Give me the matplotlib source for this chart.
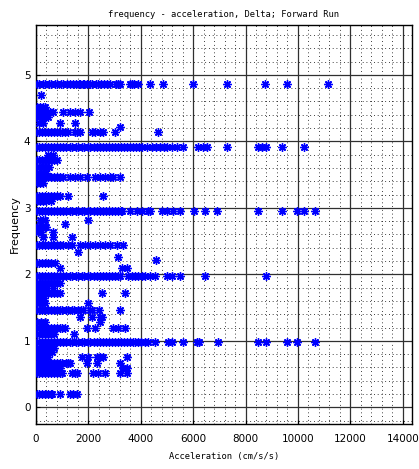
import matplotlib
matplotlib.use("Agg")
import matplotlib.pyplot as plt
from matplotlib.ticker import MultipleLocator

# ---- data: frequency rows (Hz) and accelerations (cm/s/s) ----
freq_486 = 4.86
acc_486 = [20, 130, 250, 360, 480, 590, 710, 820, 940, 1050, 1170, 1280, 1400, 1510, 1630,
           1690, 1780, 1850, 1930, 2060, 2150, 2280, 2350, 2470, 2580, 2700, 2810, 3050, 3120,
           3190, 3580, 3650, 3760, 3880, 4340, 4830, 5980, 7310, 8730, 9570, 11130]

freqs_4x = [4.70, 4.52, 4.44, 4.36, 4.28, 4.22, 4.14]
acc_4x = [
    [180],
    [30, 140, 250, 330],
    [20, 120, 230, 330, 440, 520, 640, 1020, 1290, 1480, 1670, 2010],
    [20, 130, 240, 350, 450],
    [100, 250, 900, 1480],
    [3190],
    [20, 120, 230, 340, 450, 560, 680, 790, 900, 1010, 1100, 1210, 1480, 1550, 1670, 2130,
     2240, 2430, 2540, 3000, 4640],
]

freq_392 = 3.92
acc_392 = [20, 130, 240, 360, 470, 590, 700, 820, 930, 1050, 1160, 1280, 1390, 1510, 1620,
           1740, 1850, 1970, 2080, 2200, 2310, 2430, 2540, 2660, 2770, 2890, 3000, 3120, 3230,
           3350, 3460, 3580, 3690, 3810, 3920, 4040, 4220, 4410, 4600, 4720, 4870, 4990, 5180,
           5370, 5600, 6170, 6360, 6510, 7310, 8460, 8610, 8800, 9410, 10250]

freqs_3x = [3.80, 3.72, 3.62, 3.53, 3.46, 3.38, 3.18, 3.10]
acc_3x = [
    [450, 640],
    [20, 120, 230, 340, 450, 560, 680, 790],
    [20, 130, 250, 380, 500],
    [20, 120, 250, 380],
    [20, 120, 230, 340, 450, 560, 680, 790, 900, 1020, 1290, 1480, 1670, 1930, 2240, 2430,
     2620, 2810, 2930, 3190],
    [30, 150, 280],
    [20, 120, 230, 340, 450, 560, 680, 790, 900, 1210, 2540],
    [20, 140, 260, 400, 560],
]

freq_295 = 2.95
acc_295 = [20, 130, 240, 360, 470, 590, 700, 820, 930, 1050, 1160, 1280, 1390, 1510, 1620,
           1740, 1850, 1970, 2080, 2200, 2310, 2430, 2540, 2660, 2770, 2890, 3000, 3120, 3230,
           3300, 3575, 3840, 4030, 4260, 4340, 4800, 4990, 5220, 5480, 6020, 6440, 6900, 8460,
           9410, 9980, 10250, 10670]

freqs_2x = [2.82, 2.75, 2.71, 2.64, 2.56, 2.44, 2.33, 2.26, 2.21, 2.17, 2.09]
acc_2x = [
    [140, 250, 330, 1970],
    [1100],
    [20, 100, 180, 260, 330, 400],
    [60, 200, 640],
    [250, 640, 1360],
    [20, 120, 230, 340, 450, 560, 680, 790, 900, 1020, 1210, 1360, 1670, 1860, 2050, 2240,
     2430, 2620, 2810, 3080, 3310],
    [1590],
    [3120],
    [4600],
    [20, 120, 230, 340, 450, 560, 720],
    [900, 3270, 3460],
]

freq_197 = 1.97
acc_197 = [20, 130, 240, 360, 470, 590, 700, 820, 930, 1050, 1160, 1280, 1390, 1510, 1620,
           1740, 1850, 1970, 2080, 2200, 2310, 2430, 2540, 2660, 2770, 2890, 3000, 3120, 3200,
           3500, 3650, 3770, 3880, 4030, 4150, 4340, 4530, 4990, 5180, 5480, 6440, 8800]

freqs_1x = [1.87, 1.80, 1.72, 1.64, 1.57, 1.46, 1.36, 1.28, 1.20, 1.11]
acc_1x = [
    [20, 120, 230, 340, 450, 560, 680, 790, 900],
    [30, 150, 280, 410, 640],
    [20, 120, 230, 340, 450, 560, 680, 800, 900, 2510, 3380],
    [20, 150, 300],
    [20, 120, 230, 330, 1970],
    [20, 120, 230, 340, 450, 560, 680, 790, 900, 1010, 1130, 1240, 1360, 1470, 1590, 1700,
     1780, 2050, 2130, 2390, 3190],
    [1670, 2130, 2430, 2510],
    [30, 180, 330, 2430],
    [20, 120, 230, 340, 450, 560, 680, 790, 900, 1000, 1100, 1930, 2240, 2930, 3120, 3380],
    [20, 120, 230, 340, 450, 560, 700, 1470],
]

freq_099 = 0.99
acc_099 = [20, 130, 240, 360, 470, 590, 700, 820, 930, 1050, 1160, 1280, 1390, 1510, 1620,
           1740, 1850, 1970, 2080, 2200, 2310, 2430, 2540, 2660, 2770, 2890, 3000, 3120, 3230,
           3350, 3460, 3580, 3700, 3770, 3880, 4000, 4150, 4260, 4530, 5030, 5180, 5600, 6130,
           6240, 6930, 8460, 8800, 9570, 9980, 10670]

freqs_0x = [0.90, 0.83, 0.75, 0.66, 0.59, 0.51, 0.20]
acc_0x = [
    [20, 120, 230, 340, 450, 560, 700],
    [20, 150, 300, 450, 600],
    [20, 150, 300, 450, 1740, 1970, 2320, 2430, 2540, 3460],
    [20, 120, 230, 340, 450, 560, 680, 790, 900, 1010, 1130, 1240, 1300, 1930, 2320, 3190],
    [20, 150, 300, 450, 600, 750, 900, 3310, 3460],
    [20, 120, 230, 340, 450, 560, 680, 790, 900, 1000, 1360, 1480, 1550, 2160, 2350, 2620,
     3190, 3460],
    [20, 120, 230, 340, 450, 560, 600, 900, 1290, 1400, 1550],
]

x_ticks = [0, 2000, 4000, 6000, 8000, 10000, 12000, 14000]
y_ticks = [0, 1, 2, 3, 4, 5]

# ---- assemble ----
rows = [(freq_486, acc_486), (freq_392, acc_392), (freq_295, acc_295),
        (freq_197, acc_197), (freq_099, acc_099)]
for fl, al in [(freqs_4x, acc_4x), (freqs_3x, acc_3x), (freqs_2x, acc_2x),
               (freqs_1x, acc_1x), (freqs_0x, acc_0x)]:
    rows.extend(zip(fl, al))

xs, ys = [], []
for f, accs in rows:
    xs.extend(accs)
    ys.extend([f] * len(accs))

fig = plt.figure(figsize=(4.19, 4.69), dpi=100)
ax = fig.add_axes([0.0859, 0.096, 0.8971, 0.8507])

ax.plot(xs, ys, linestyle="none", marker=(8, 2, 0), color="#0000ff",
        markersize=6, markeredgewidth=1.0, zorder=3)

ax.set_xlim(0, 14350)
ax.set_ylim(-0.25, 5.75)
ax.set_xticks(x_ticks)
ax.set_yticks(y_ticks)
ax.xaxis.set_minor_locator(MultipleLocator(400))
ax.yaxis.set_minor_locator(MultipleLocator(0.2))
ax.grid(which="major", color="#303030", linewidth=0.9, linestyle="-", zorder=1)
ax.grid(which="minor", color="#000000", linewidth=0.6, linestyle=(0, (1, 3.5)), zorder=1)
ax.set_axisbelow(True)
ax.tick_params(which="major", direction="in", length=3, width=0.8, labelsize=7.5)
ax.tick_params(axis="x", pad=7)
ax.tick_params(axis="y", pad=4)
ax.tick_params(which="minor", length=0)
for s in ax.spines.values():
    s.set_linewidth(1.0)
    s.set_color("black")

ax.set_title("frequency - acceleration, Delta; Forward Run",
             fontsize=6.3, family="DejaVu Sans Mono", pad=6)
ax.set_xlabel("Acceleration (cm/s/s)", fontsize=6.3, family="DejaVu Sans Mono", labelpad=6)
ax.set_ylabel("Frequency", fontsize=8, labelpad=3)

fig.savefig("out.png", dpi=100)
